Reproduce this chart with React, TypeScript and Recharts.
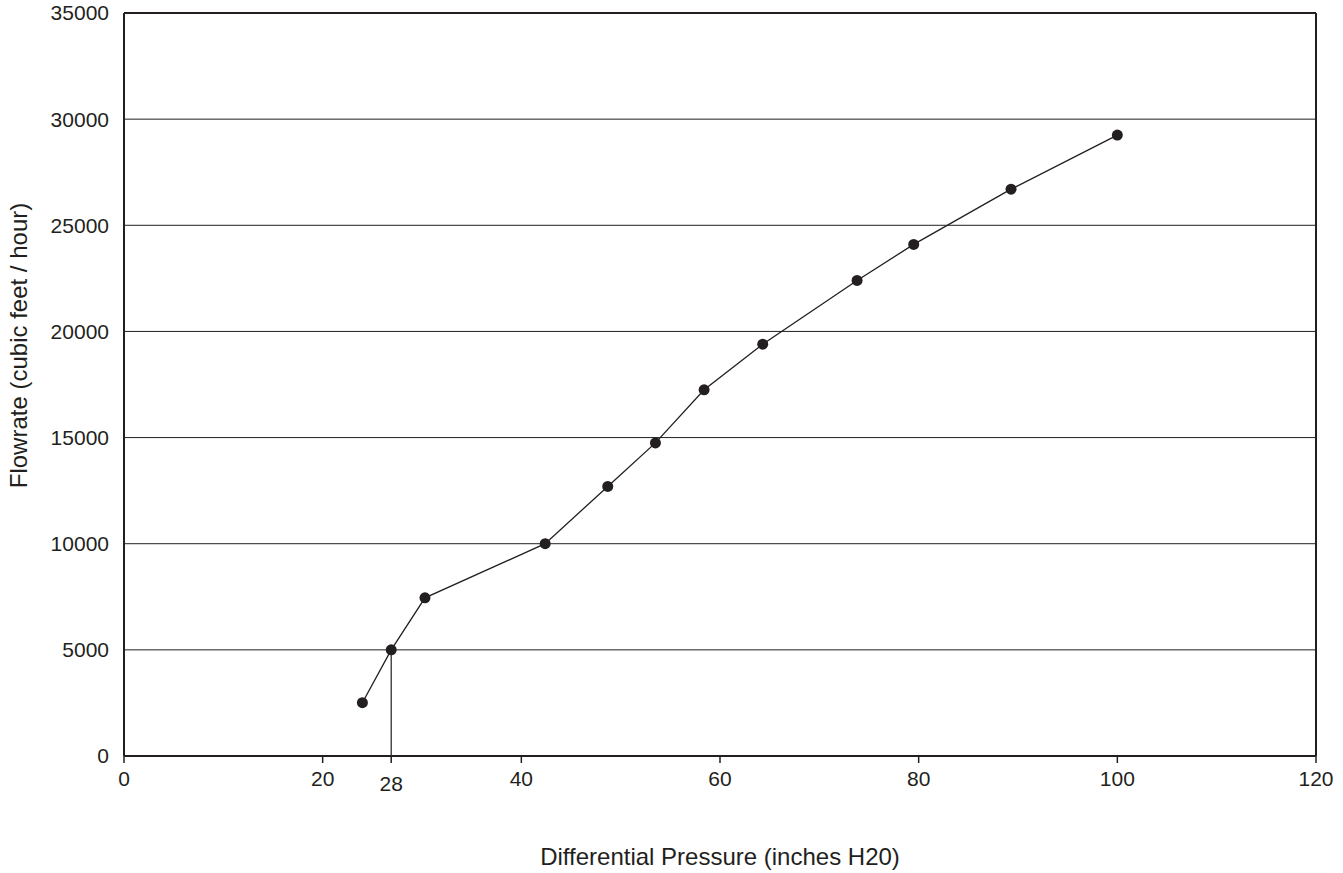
import React from 'react';
import {
  LineChart,
  Line,
  XAxis,
  YAxis,
  CartesianGrid,
  ReferenceLine,
} from 'recharts';

// readings taken off the chart
const pressure = [24, 26.9, 30.3, 42.4, 48.7, 53.5, 58.4, 64.3, 73.8, 79.5, 89.3, 100];
const flowrate = [2510, 5000, 7450, 10000, 12700, 14750, 17250, 19400, 22400, 24100, 26700, 29250];

const xTicks = [0, 20, 40, 60, 80, 100, 120];
const yTicks = [0, 5000, 10000, 15000, 20000, 25000, 30000, 35000];

// the dropped line from the 5000 cfh point, labelled 28
const markerX = 26.9;
const markerY = 5000;
const markerLabel = '28';

const data = pressure.map((p, i) => ({ x: p, y: flowrate[i] }));

const INK = '#231f20';
const FONT = '"Liberation Sans", Arial, sans-serif';

const XTick = (props: any) => {
  const { x, y, payload } = props;
  const isMarker = payload.value === markerX;
  return (
    <text
      x={x}
      y={y}
      dy={isMarker ? '0.95em' : '0.71em'}
      textAnchor="middle"
      fill={INK}
      fontSize={21}
      fontFamily={FONT}
    >
      {isMarker ? markerLabel : payload.value}
    </text>
  );
};

// title sits a little above the middle of the axis in the original
const YTitle = (props: any) => {
  const { viewBox } = props;
  const cx = viewBox.x + 18;
  const cy = viewBox.y + viewBox.height / 2 - 39;
  return (
    <text
      x={cx}
      y={cy}
      transform={`rotate(-90, ${cx}, ${cy})`}
      textAnchor="middle"
      dominantBaseline="central"
      fill={INK}
      fontSize={24}
      fontFamily={FONT}
    >
      Flowrate (cubic feet / hour)
    </text>
  );
};

const App: React.FC = () => {
  return (
    <div style={{ position: 'absolute', left: 0, top: 0, background: '#fff' }}>
      <LineChart
        width={1343}
        height={873}
        data={data}
        margin={{ top: 13, right: 27, left: 0, bottom: 0 }}
      >
        <CartesianGrid vertical={false} stroke={INK} strokeWidth={1} />
        <XAxis
          type="number"
          dataKey="x"
          domain={[0, 120]}
          ticks={[...xTicks, markerX].sort((a, b) => a - b)}
          interval={0}
          height={117}
          tickSize={7}
          tickMargin={8}
          tick={<XTick />}
          stroke={INK}
          axisLine={{ stroke: INK, strokeWidth: 2 }}
          tickLine={{ stroke: INK, strokeWidth: 1.5 }}
          label={{
            value: 'Differential Pressure (inches H20)',
            position: 'insideBottom',
            offset: 8,
            fill: INK,
            fontSize: 24,
            fontFamily: FONT,
          }}
        />
        <YAxis
          type="number"
          domain={[0, 35000]}
          ticks={yTicks}
          interval={0}
          width={124}
          tickLine={false}
          tickSize={6}
          tickMargin={9}
          axisLine={{ stroke: INK, strokeWidth: 2 }}
          tick={{ fill: INK, fontSize: 21, fontFamily: FONT }}
          label={{ content: (p: any) => <YTitle {...p} /> }}
        />
        <ReferenceLine y={35000} stroke={INK} strokeWidth={2} />
        <ReferenceLine x={120} stroke={INK} strokeWidth={2} />
        <ReferenceLine
          segment={[
            { x: markerX, y: 0 },
            { x: markerX, y: markerY },
          ]}
          stroke={INK}
          strokeWidth={1.2}
        />
        <Line
          type="linear"
          dataKey="y"
          stroke={INK}
          strokeWidth={1.3}
          dot={{ r: 5.5, fill: INK, stroke: INK, strokeWidth: 0 }}
          activeDot={false}
          isAnimationActive={false}
        />
      </LineChart>
    </div>
  );
};

export default App;
